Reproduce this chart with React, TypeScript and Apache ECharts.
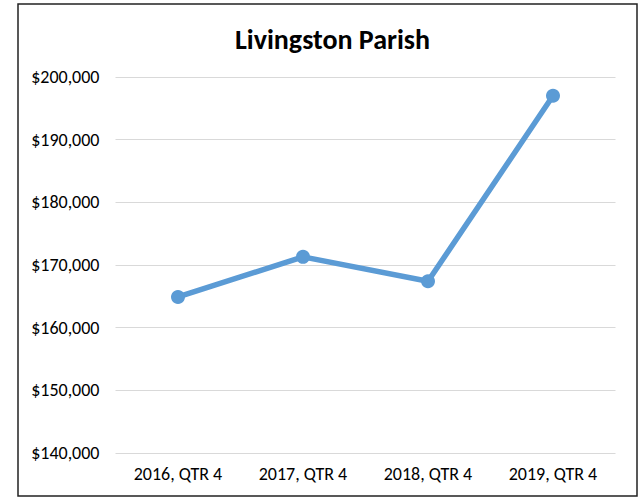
import React, { useEffect, useRef } from "react";
import * as echarts from "echarts";

const categories = ["2016, QTR 4", "2017, QTR 4", "2018, QTR 4", "2019, QTR 4"];
const values = [164900, 171300, 167400, 197000];
const yMin = 140000;
const yMax = 200000;
const yStep = 10000;

const FONT = "'Carlito', 'Liberation Sans Narrow', 'Liberation Sans', sans-serif";

export default function App() {
  const ref = useRef<HTMLDivElement>(null);
  useEffect(() => {
    document.body.style.margin = "0";
    const chart = echarts.init(ref.current!, null, { renderer: "svg" });
    chart.setOption({
      animation: false,
      backgroundColor: "#ffffff",
      title: {
        text: "Livingston Parish",
        left: 327.5,
        top: 20,
        textAlign: "center",
        textStyle: { fontFamily: FONT, fontSize: 28, fontWeight: "bold", color: "#000" },
      },
      graphic: [
        {
          type: "rect",
          shape: { x: 18, y: 4, width: 619, height: 492 },
          style: { fill: "none", stroke: "#222", lineWidth: 1.5 },
          silent: true,
        },
      ],
      grid: { left: 115.5, right: 24.5, top: 77, bottom: 46 },
      xAxis: {
        type: "category",
        data: categories,
        boundaryGap: true,
        axisLine: { show: false },
        axisTick: { show: false },
        axisLabel: { fontFamily: FONT, fontSize: 18, color: "#000", margin: 12 },
      },
      yAxis: {
        type: "value",
        min: yMin,
        max: yMax,
        interval: yStep,
        axisLine: { show: false },
        axisTick: { show: false },
        splitLine: { lineStyle: { color: "#d9d9d9", width: 1 } },
        axisLabel: {
          fontFamily: FONT,
          fontSize: 18,
          color: "#000",
          margin: 16,
          formatter: (v: number) => "$" + v.toLocaleString("en-US"),
        },
      },
      series: [
        {
          type: "line",
          data: values,
          symbol: "circle",
          symbolSize: 14,
          lineStyle: { color: "#5b9bd5", width: 5.5 },
          itemStyle: { color: "#5b9bd5" },
        },
      ],
    });
    return () => chart.dispose();
  }, []);
  return <div ref={ref} style={{ width: 640, height: 499 }} />;
}
